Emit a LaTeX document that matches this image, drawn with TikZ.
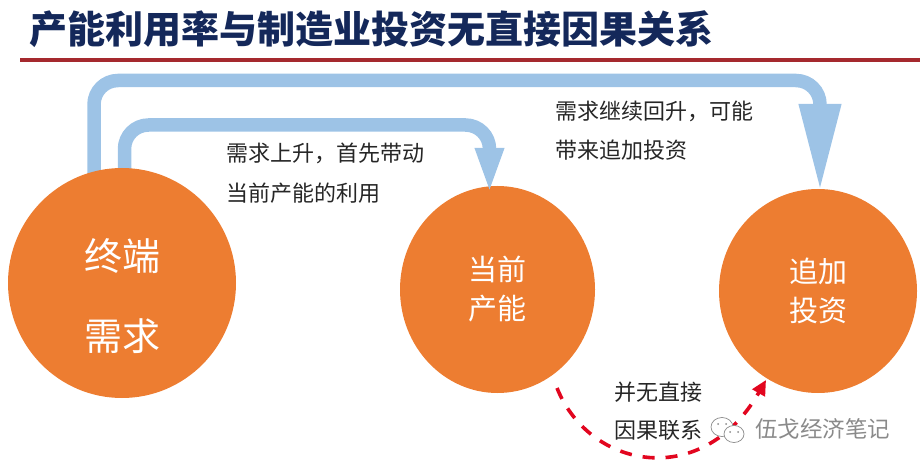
\documentclass[tikz,border=0pt]{standalone}
\usepackage{fontspec}
\setmainfont{Noto Sans CJK SC}
\usetikzlibrary{arrows.meta,shapes.geometric,backgrounds}
\definecolor{orangefill}{HTML}{ED7D31}
\definecolor{pipeblue}{HTML}{9DC3E6}
\definecolor{titlenavy}{HTML}{14285A}
\definecolor{rulered}{HTML}{A5292E}
\definecolor{markgray}{HTML}{8A8A8A}
\definecolor{labelink}{HTML}{262626}
\definecolor{dashred}{HTML}{E2061F}
\tikzset{
  orb/.style={shape=ellipse,fill=orangefill,inner sep=0pt,text=white,align=center},
  orbtext/.style={inner sep=0pt,text=white,font=\fontsize{38}{38}\selectfont},
  pipe/.style={draw=pipeblue,line width=13.5pt},
  lbl/.style={anchor=west,inner sep=0pt,text=labelink,font=\fontsize{22}{22}\selectfont},
  bubble/.style={draw=markgray,fill=white,line width=.7pt}
}
\begin{document}
\begin{tikzpicture}[x=1pt,y=-1pt]
\useasboundingbox (0,0) rectangle (920,470);
\node[anchor=west,inner sep=0pt,text=titlenavy,font=\fontsize{38}{38}\bfseries\selectfont] (title) at (29,29) {产能利用率与制造业投资无直接因果关系};
\coordinate (ruleL) at (20,60);
\coordinate (ruleR) at (920,60);
\draw[rulered,line width=3.2pt] (ruleL) -- (ruleR);

\node[orb,minimum width=228pt,minimum height=230pt] (term) at (122,283) {};
\node[orbtext] (termA) at ([yshift=27pt]term.center) {终端};
\node[orbtext] (termB) at ([yshift=-53pt]term.center) {需求};

\coordinate (outerBend) at (820,80.5);
\coordinate (innerBend) at (489.5,125);
\begin{scope}[on background layer]
\node[orb,minimum width=195pt,minimum height=207pt,font=\fontsize{29}{39}\selectfont] (cur) at (497.5,289.5) {当前\\产能};
\node[orb,minimum width=198pt,minimum height=204pt,font=\fontsize{29}{39}\selectfont] (add) at (818,291) {追加\\投资};
\draw[pipe,rounded corners=24pt,-{Triangle[width=39pt,length=88pt,sep=0pt]}]
  ([xshift=-28pt]term.center) |- (outerBend) -- ([xshift=2pt,yshift=-3pt]add.north);
\draw[pipe,rounded corners=24pt,-{Triangle[width=26pt,length=46pt,sep=0pt]}]
  ([xshift=2.5pt]term.center) |- (innerBend) -- ([xshift=-8pt,yshift=-8pt]cur.north);
\end{scope}

\coordinate (dashS) at (557,388);
\coordinate (dashE) at (766,380);
\draw[dashred,line width=3.6pt,dash pattern=on 12pt off 11pt,-{Triangle[width=14pt,length=15pt,sep=0pt]}]
  (dashS) .. controls (590,470) and (703,490) .. (dashE);

\node[lbl] (l1a) at (226,153) {需求上升，首先带动};
\node[lbl] (l1b) at (226,193) {当前产能的利用};
\node[lbl] (l2a) at (555,111) {需求继续回升，可能};
\node[lbl] (l2b) at (555,150) {带来追加投资};
\node[lbl] (l3a) at (614,392) {并无直接};
\node[lbl] (l3b) at (614,430) {因果联系};

\draw[bubble] (722,427) ellipse (11pt and 9.5pt);
\draw[bubble] (734,434) ellipse (10pt and 8.5pt);
\fill[markgray] (718,424) circle (1pt) (726,424) circle (1pt) (730,432) circle (1pt) (738,432) circle (1pt);
\node[anchor=west,inner sep=0pt,text=markgray,font=\fontsize{22.5}{22.5}\selectfont] (wm) at (755,429) {伍戈经济笔记};
\end{tikzpicture}
\end{document}
